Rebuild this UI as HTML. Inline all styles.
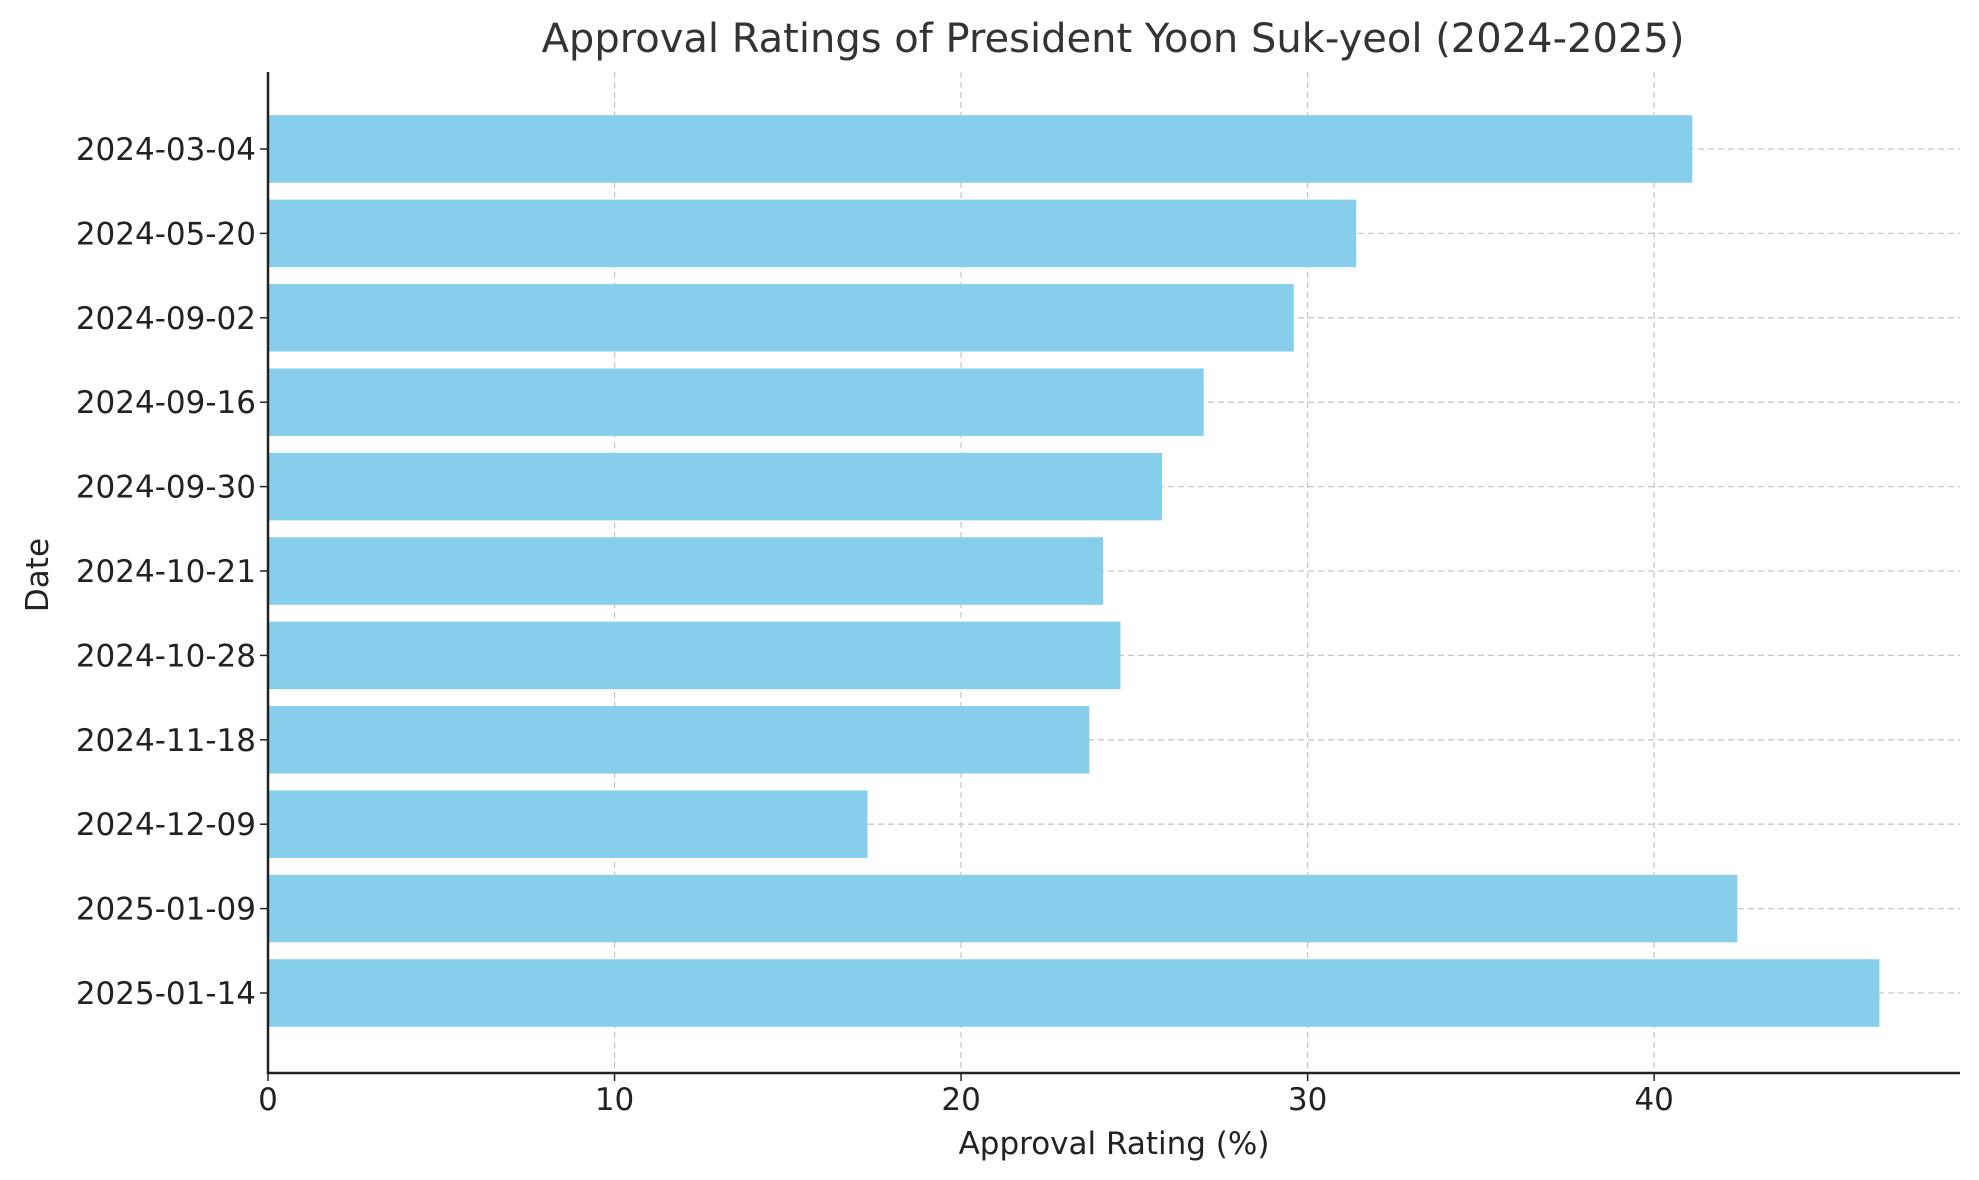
<!DOCTYPE html>
<html><head><meta charset="utf-8"><style>
html,body{margin:0;padding:0;background:#fff;}
svg{display:block;font-family:"DejaVu Sans","Liberation Sans",sans-serif;}
</style></head><body>
<svg id="chart" width="1979" height="1180" viewBox="0 0 1979 1180">
<text x="1113" y="52" font-size="40" fill="#333" text-anchor="middle">Approval Ratings of President Yoon Suk-yeol (2024-2025)</text>
<g id="grid"></g>
<g id="bars"></g>
<g id="axes"></g>
<text x="1114" y="1154" font-size="31" fill="#222" text-anchor="middle">Approval Rating (%)</text>
<text x="48" y="575" font-size="31" fill="#222" text-anchor="middle" transform="rotate(-90 48 575)">Date</text>
</svg>
<script>
const categories = ["2024-03-04","2024-05-20","2024-09-02","2024-09-16","2024-09-30","2024-10-21","2024-10-28","2024-11-18","2024-12-09","2025-01-09","2025-01-14"];
const ratings = [41.1,31.4,29.6,27.0,25.8,24.1,24.6,23.7,17.3,42.4,46.5];
const xTicks = [0,10,20,30,40];

const L=268,R=1960,T=72,B=1073;
const xMax = Math.max(...ratings)*1.05;
const x = v => L + v/xMax*(R-L);
const n = categories.length;
const y0 = 149, y1 = 993;
const step = n>1 ? (y1-y0)/(n-1) : 0;
const y = i => y0 + i*step;
const bh = step*0.8 || 67;
const NS="http://www.w3.org/2000/svg";
function mk(tag, attrs, parent){const e=document.createElementNS(NS,tag);for(const k in attrs)e.setAttribute(k,attrs[k]);parent.appendChild(e);return e;}
const grid=document.getElementById('grid'), bars=document.getElementById('bars'), axes=document.getElementById('axes');
xTicks.forEach(t=>{
  const g=mk('line',{x1:x(t),x2:x(t),y1:T,y2:B,stroke:'#c8c8c8','stroke-width':1.3,'stroke-dasharray':'6,4'},grid);
  
  
  const tk=mk('line',{x1:x(t),x2:x(t),y1:B,y2:B+8,stroke:'#222','stroke-width':1.5},axes);
  
  
  const lb=mk('text',{x:x(t),y:1110,'font-size':31,fill:'#222','text-anchor':'middle'},axes);
  lb.textContent=t;
  
  
});
categories.forEach((c,i)=>{
  const g=mk('line',{x1:L,x2:R,y1:y(i),y2:y(i),stroke:'#c8c8c8','stroke-width':1.3,'stroke-dasharray':'6,4'},grid);
  
  
  const r=mk('rect',{x:L,y:y(i)-bh/2,width:x(ratings[i])-L,height:bh,fill:'#87ceeb'},bars);
  
  
  const tk=mk('line',{x1:L-8,x2:L,y1:y(i),y2:y(i),stroke:'#222','stroke-width':1.5},axes);
  
  
  const lb=mk('text',{x:L-12,y:y(i)+11,'font-size':31,fill:'#222','text-anchor':'end'},axes);
  lb.textContent=c;
  
  
});
const ls=mk('line',{x1:L,x2:L,y1:T,y2:B+1,stroke:'#222','stroke-width':2.5},axes);


const bs=mk('line',{x1:L-1,x2:R,y1:B,y2:B,stroke:'#222','stroke-width':2.5},axes);


</script>
</body></html>
